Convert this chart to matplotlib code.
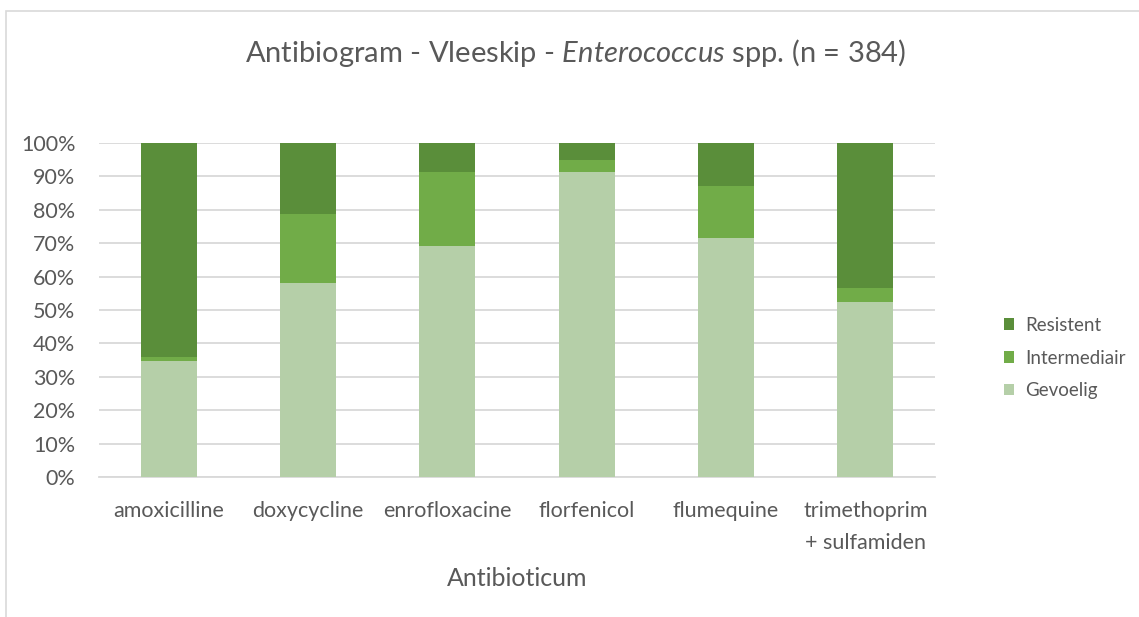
import numpy as np
import matplotlib.pyplot as plt
from matplotlib.patches import Rectangle

plt.rcParams['font.family'] = ['Lato', 'DejaVu Sans']
plt.rcParams['mathtext.fontset'] = 'custom'
plt.rcParams['mathtext.rm'] = 'Lato'
plt.rcParams['mathtext.it'] = 'Lato:italic'

antibiotica = ['amoxicilline', 'doxycycline', 'enrofloxacine', 'florfenicol',
               'flumequine', 'trimethoprim\n+ sulfamiden']
gevoelig = [34.7, 58.1, 69.2, 91.3, 71.6, 52.4]
intermediair = [1.2, 20.5, 22.0, 3.6, 15.4, 4.2]
resistent = [64.1, 21.4, 8.8, 5.1, 13.0, 43.4]

kleur_g = '#B5CFA8'
kleur_i = '#71AC48'
kleur_r = '#5A8E3A'
tekst = '#595959'

fig = plt.figure(figsize=(11.39, 6.17), dpi=100)
W, H = 1139, 617
ax = fig.add_axes([99 / W, 1 - 477 / H, (935 - 99) / W, (477 - 143) / H])

# kader rond de grafiek
fig.patches.append(Rectangle((6 / W, -0.1), 1.2, 1 - 11 / H + 0.1,
                             transform=fig.transFigure, fill=False,
                             edgecolor='#D9D9D9', linewidth=1.2))

x = np.arange(len(antibiotica))
g = np.array(gevoelig)
i = np.array(intermediair)
r = np.array(resistent)
bw = 0.4
ax.bar(x, g, bw, color=kleur_g, label='Gevoelig', zorder=3)
ax.bar(x, i, bw, bottom=g, color=kleur_i, label='Intermediair', zorder=3)
ax.bar(x, r, bw, bottom=g + i, color=kleur_r, label='Resistent', zorder=3)

ax.set_xlim(-0.5, len(antibiotica) - 0.5)
ax.set_ylim(0, 100)
ax.set_yticks(np.arange(0, 101, 10))
ax.set_yticklabels([f'{v}%' for v in range(0, 101, 10)])
ax.set_xticks(x)
ax.set_xticklabels(antibiotica, linespacing=1.75)
ax.grid(axis='y', color='#D9D9D9', linewidth=1.3, zorder=0)
for s in ['top', 'right', 'left']:
    ax.spines[s].set_visible(False)
ax.spines['bottom'].set_color('#D9D9D9')
ax.spines['bottom'].set_linewidth(1.3)
ax.tick_params(axis='both', length=0, colors=tekst, labelsize=15.5)
ax.tick_params(axis='x', pad=17)
ax.tick_params(axis='y', pad=17)

ax.set_xlabel('Antibioticum', fontsize=18, color=tekst, labelpad=10)
fig.text(0.505, 1 - 53 / H,
         r'Antibiogram - Vleeskip - $\mathit{Enterococcus}$ spp. (n = 384)',
         ha='center', va='center', fontsize=21, color=tekst)

h, l = ax.get_legend_handles_labels()
fig.legend(h[::-1], l[::-1], loc='center left', bbox_to_anchor=(987 / W, 1 - 358 / H),
           frameon=False, fontsize=13.5, labelcolor=tekst, handlelength=0.55,
           handleheight=0.55, handletextpad=0.6, labelspacing=0.85)

fig.savefig('out.png', dpi=100)
